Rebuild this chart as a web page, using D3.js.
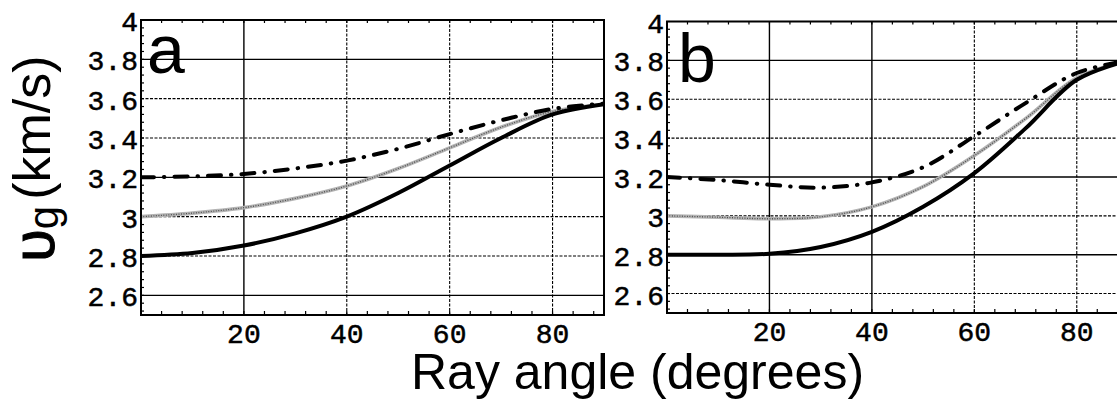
<!DOCTYPE html>
<html>
<head>
<meta charset="utf-8">
<script src="https://cdn.jsdelivr.net/npm/d3@7"></script>
<style>
  html, body { margin: 0; padding: 0; background: #fff; }
  svg { display: block; }
</style>
</head>
<body>
<svg id="chart" width="1117" height="400"></svg>
<script>
// Ray angle samples (degrees)
const angles = [0, 10, 20, 30, 40, 50, 60, 70, 80, 90];

// Panel a: group velocity (km/s)
const aSolid   = [2.80, 2.815, 2.853, 2.915, 3.00, 3.12, 3.26, 3.40, 3.52, 3.572];
const aGray    = [3.00, 3.018, 3.046, 3.093, 3.156, 3.245, 3.35, 3.455, 3.535, 3.572];
const aDashDot = [3.20, 3.205, 3.217, 3.245, 3.285, 3.345, 3.42, 3.49, 3.548, 3.575];

// Panel b: group velocity (km/s)
const bSolid   = [2.80, 2.80, 2.805, 2.84, 2.918, 3.047, 3.22, 3.45, 3.70, 3.80];
const bGray    = [3.00, 2.993, 2.985, 2.995, 3.046, 3.15, 3.31, 3.50, 3.71, 3.80];
const bDashDot = [3.20, 3.184, 3.16, 3.145, 3.172, 3.25, 3.41, 3.58, 3.735, 3.80];

// Axis ticks
const xTickValues = [20, 40, 60, 80];
const xTickLabels = ["20", "40", "60", "80"];
const yTickValues = [2.6, 2.8, 3.0, 3.2, 3.4, 3.6, 3.8, 4.0];
const yTickLabels = ["2.6", "2.8", "3", "3.2", "3.4", "3.6", "3.8", "4"];

const xDomain = [0, 90];
const yDomain = [2.5, 4.0];

const svg = d3.select("#chart");
const monoFont = "'Liberation Mono', 'DejaVu Sans Mono', monospace";
const sansFont = "'Liberation Sans', Arial, sans-serif";

const panels = [
  { name: "a", left: 141, right: 604, top: 20, bottom: 315,
    solid: aSolid, gray: aGray, dashdot: aDashDot,
    solidGridY: [2.6, 3.2, 3.8], solidGridX: [20],
    tagX: 147, tagY: 73 },
  { name: "b", left: 667, right: 1128, top: 21.5, bottom: 313,
    solid: bSolid, gray: bGray, dashdot: bDashDot,
    solidGridY: [2.8, 3.2, 3.8], solidGridX: [20, 40],
    tagX: 678, tagY: 82 }
];

panels.forEach(p => {
  const x = d3.scaleLinear().domain(xDomain).range([p.left, p.right]);
  const y = d3.scaleLinear().domain(yDomain).range([p.bottom, p.top]);
  const g = svg.append("g").attr("class", "panel-" + p.name);
  const isSolidY = d => p.solidGridY.some(s => Math.abs(s - d) < 1e-6);

  const clipId = "clip-" + p.name;
  g.append("clipPath").attr("id", clipId)
    .append("rect")
    .attr("x", p.left).attr("y", p.top)
    .attr("width", p.right - p.left).attr("height", p.bottom - p.top);

  // grid lines: some solid, others finely dashed
  const grid = g.append("g").attr("class", "grid").attr("stroke", "#000");
  grid.selectAll("line.gy").data(yTickValues.filter(v => v < 4)).join("line")
    .attr("x1", p.left).attr("x2", p.right)
    .attr("y1", d => y(d)).attr("y2", d => y(d))
    .attr("stroke-width", d => isSolidY(d) ? 1.4 : 1.1)
    .attr("stroke-dasharray", d => isSolidY(d) ? null : "3,1.5");
  grid.selectAll("line.gx").data(xTickValues).join("line")
    .attr("y1", p.top).attr("y2", p.bottom)
    .attr("x1", d => x(d)).attr("x2", d => x(d))
    .attr("stroke-width", d => p.solidGridX.includes(d) ? 1.4 : 1.1)
    .attr("stroke-dasharray", d => p.solidGridX.includes(d) ? null : "3,1.5");

  // minor frame ticks
  const minorX = d3.range(0, 90.01, 4);
  const minorY = d3.range(2.52, 4.001, 0.04);
  const ticks = g.append("g").attr("stroke", "#000").attr("stroke-width", 1.2);
  ticks.selectAll("line.mxb").data(minorX).join("line")
    .attr("x1", d => x(d)).attr("x2", d => x(d))
    .attr("y1", p.bottom).attr("y2", p.bottom - 4);
  ticks.selectAll("line.mxt").data(minorX).join("line")
    .attr("x1", d => x(d)).attr("x2", d => x(d))
    .attr("y1", p.top).attr("y2", p.top + 3);
  ticks.selectAll("line.myl").data(minorY).join("line")
    .attr("x1", p.left).attr("x2", p.left + 3)
    .attr("y1", d => y(d)).attr("y2", d => y(d));

  // curves
  const line = d3.line()
    .x((d, k) => x(angles[k]))
    .y(d => y(d))
    .curve(d3.curveCatmullRom.alpha(0.5));
  const curves = g.append("g").attr("clip-path", `url(#${clipId})`).attr("fill", "none");

  curves.append("path").datum(p.gray)
    .attr("d", line)
    .attr("stroke", "#b4b4b4").attr("stroke-width", 3.6);
  curves.append("path").datum(p.gray)
    .attr("d", line)
    .attr("stroke", "#505050").attr("stroke-width", 1.3)
    .attr("stroke-dasharray", "1,1.5");

  curves.append("path").datum(p.solid)
    .attr("d", line)
    .attr("stroke", "#000").attr("stroke-width", 4)
    .attr("stroke-linecap", "round");

  curves.append("path").datum(p.dashdot)
    .attr("d", line)
    .attr("stroke", "#000").attr("stroke-width", 4)
    .attr("stroke-linecap", "round")
    .attr("stroke-dasharray", "13,10,0.5,10");

  // frame
  g.append("rect")
    .attr("x", p.left).attr("y", p.top)
    .attr("width", p.right - p.left).attr("height", p.bottom - p.top)
    .attr("fill", "none").attr("stroke", "#000").attr("stroke-width", 2);

  // tick labels
  g.selectAll("text.yl").data(yTickValues).join("text")
    .attr("x", p.left - 3)
    .attr("y", d => y(d) + 11)
    .attr("text-anchor", "end")
    .attr("font-family", monoFont).attr("font-size", 28)
    .attr("stroke", "#000").attr("stroke-width", 0.5)
    .text((d, k) => yTickLabels[k]);
  g.selectAll("text.xl").data(xTickValues).join("text")
    .attr("x", d => x(d))
    .attr("y", p.bottom + 28)
    .attr("text-anchor", "middle")
    .attr("font-family", monoFont).attr("font-size", 28)
    .attr("stroke", "#000").attr("stroke-width", 0.5)
    .text((d, k) => xTickLabels[k]);

  // panel tag
  g.append("text")
    .attr("x", p.tagX).attr("y", p.tagY)
    .attr("font-family", sansFont).attr("font-size", 68)
    .text(p.name);
});

// axis titles
const yTitle = svg.append("text")
  .attr("transform", "translate(54,262) rotate(-90)")
  .attr("font-family", sansFont).attr("fill", "#000");
yTitle.append("tspan").attr("font-size", 60).attr("stroke", "#000").attr("stroke-width", 1).text("υ");
yTitle.append("tspan").attr("font-size", 42).attr("dy", 4).text("g");
yTitle.append("tspan").attr("font-size", 52).attr("dy", -8).attr("dx", 6).text("(km/s)");

svg.append("text")
  .attr("x", 411).attr("y", 389)
  .attr("font-family", sansFont).attr("font-size", 50)
  .text("Ray angle (degrees)");
</script>
</body>
</html>
